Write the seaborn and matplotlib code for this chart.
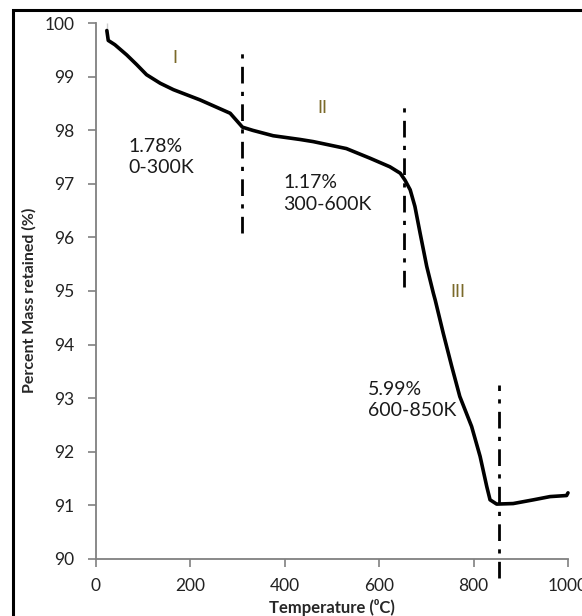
import numpy as np
import pandas as pd
import matplotlib
matplotlib.use("Agg")
import matplotlib.pyplot as plt
import matplotlib.patches as mpatches
import seaborn as sns

# TGA curve
temperature = [24, 24, 27, 41, 66, 87, 108, 137, 165, 221, 285, 295, 311, 333, 376,
               433, 461, 531, 581, 623, 645, 655, 666, 676, 687, 701, 715, 719, 736,
               754, 771, 796, 814, 828, 835, 849, 884, 927, 962, 997, 1000]
mass = [100.0, 99.73, 99.68, 99.60, 99.41, 99.23, 99.04, 98.88, 98.76, 98.57, 98.32,
        98.22, 98.06, 98.00, 97.90, 97.83, 97.79, 97.66, 97.48, 97.32, 97.20, 97.07,
        96.89, 96.58, 96.08, 95.46, 94.96, 94.83, 94.21, 93.59, 93.03, 92.47, 91.91,
        91.35, 91.10, 91.02, 91.03, 91.10, 91.16, 91.18, 91.23]

# stage boundaries (dash-dot lines): x, y bottom, y top
bound_x = [311, 653, 854]
bound_lo = [96.08, 95.07, 89.64]
bound_hi = [99.52, 98.50, 93.25]

stage_labels = ["I", "II", "III"]
stage_x = [168, 481, 767]
stage_y = [99.35, 98.42, 94.98]

loss_labels = ["1.78%\n0-300K", "1.17%\n300-600K", "5.99%\n600-850K"]
loss_x = [69, 397, 577]
loss_y = [97.50, 96.82, 92.97]

sns.set_style("white")
plt.rcParams['font.family'] = ['Lato', 'DejaVu Sans']

df = pd.DataFrame({"Temperature": temperature, "Mass": mass})

W, H = 582, 616
fig = plt.figure(figsize=(W / 100, H / 100), dpi=100)
ax = fig.add_axes([95.5 / W, 1 - 558.7 / H, (568 - 95.5) / W, (558.7 - 23.3) / H])

sns.lineplot(data=df, x="Temperature", y="Mass", sort=False, color="black",
             linewidth=2.6, ax=ax)
for ln in ax.lines:
    ln.set_clip_on(False)

for x, lo, hi in zip(bound_x, bound_lo, bound_hi):
    ax.plot([x, x], [lo, hi], color="black", linewidth=2, linestyle=(0, (6, 3, 1.5, 3)),
            clip_on=False)

for s, x, y in zip(stage_labels, stage_x, stage_y):
    ax.text(x, y, s, color="#7a6a2a", fontsize=13, ha="center", va="center")

for s, x, y in zip(loss_labels, loss_x, loss_y):
    ax.text(x, y, s, color="#1a1a1a", fontsize=14, ha="left", va="center",
            linespacing=1.3)

ax.set_xlim(0, 1000)
ax.set_ylim(90, 100)
ax.set_xticks(range(0, 1001, 200))
ax.set_yticks(range(90, 101))
for side in ["top", "right"]:
    ax.spines[side].set_visible(False)
for side in ["left", "bottom"]:
    ax.spines[side].set_color("#808080")
    ax.spines[side].set_linewidth(1.3)
ax.tick_params(axis="both", direction="out", length=6, width=1.2, color="#808080",
               labelsize=12.5, labelcolor="#222222", left=True, bottom=True)
ax.tick_params(axis="y", pad=9)
ax.tick_params(axis="x", pad=8)

ax.set_xlabel("Temperature (\u2070C)", fontsize=12, fontweight="bold", va="center")
ax.set_ylabel("Percent Mass retained (%)", fontsize=11.5, fontweight="bold", va="center")
ax.xaxis.set_label_coords((332 - 95.5) / 472.5, (558.7 - 607) / 535.4)
ax.yaxis.set_label_coords((29 - 95.5) / 472.5, (558.7 - 300) / 535.4)

# outer frame (cropped figure border)
fig.patches.append(mpatches.Rectangle((13 / W, -0.2), 1.2, 1 - 10 / H + 0.2,
                                      transform=fig.transFigure, fill=False,
                                      edgecolor="black", linewidth=2.2))

fig.savefig("out.png", dpi=100)
